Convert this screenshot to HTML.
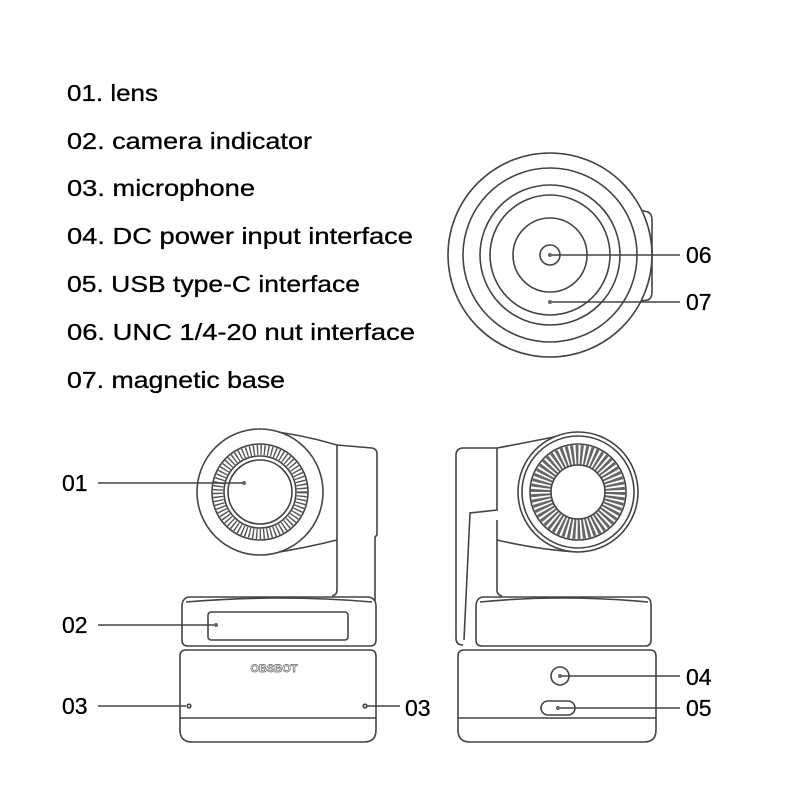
<!DOCTYPE html>
<html><head><meta charset="utf-8"><style>
html,body{margin:0;padding:0;background:#fff;width:800px;height:800px;overflow:hidden}
svg{display:block}
text{font-family:"Liberation Sans","DejaVu Sans",sans-serif;font-size:23px;fill:#000;stroke:#000;stroke-width:0.3}
</style></head><body>
<svg width="800" height="800" viewBox="0 0 800 800" xmlns="http://www.w3.org/2000/svg">
<g>
<text x="67" y="101" textLength="91" lengthAdjust="spacingAndGlyphs">01. lens</text>
<text x="67" y="149" textLength="245" lengthAdjust="spacingAndGlyphs">02. camera indicator</text>
<text x="67" y="196" textLength="188" lengthAdjust="spacingAndGlyphs">03. microphone</text>
<text x="67" y="244" textLength="346" lengthAdjust="spacingAndGlyphs">04. DC power input interface</text>
<text x="67" y="292" textLength="293" lengthAdjust="spacingAndGlyphs">05. USB type-C interface</text>
<text x="67" y="340" textLength="348" lengthAdjust="spacingAndGlyphs">06. UNC 1/4-20 nut interface</text>
<text x="67" y="388" textLength="218" lengthAdjust="spacingAndGlyphs">07. magnetic base</text>

<text x="62" y="491">01</text>
<text x="62" y="633">02</text>
<text x="62" y="714">03</text>
<text x="405" y="716">03</text>
<text x="686" y="685">04</text>
<text x="686" y="716">05</text>
<text x="686" y="263">06</text>
<text x="686" y="310">07</text>
</g>

<g fill="none" stroke="#444" stroke-width="1.6">
<!-- top view -->
<path d="M640 210 L648 212 Q652 214 652 220 L652 292 Q652 298 648 300 L640 301"/>
<circle cx="550" cy="255" r="102" fill="#fff"/>
<circle cx="550" cy="255" r="87"/>
<circle cx="550" cy="255" r="70"/>
<circle cx="550" cy="255" r="60"/>
<circle cx="550" cy="255" r="37"/>
<circle cx="550" cy="255" r="10"/>
<line x1="550" y1="255" x2="680" y2="255"/>
<line x1="550" y1="302" x2="680" y2="302"/>

<!-- LEFT CAMERA -->
<path d="M337 445 L372 448 Q377 449 377 454 L377 535 L375 537 L375 640 Q374 645 368 645"/>
<path d="M337 445 L337 590 Q337 595 332 596"/>
<path d="M262 430 Q300 434 337 445"/>
<path d="M268 554 Q305 548 337 540"/>
<circle cx="260" cy="492" r="63" fill="#fff"/>
<circle cx="260" cy="492" r="48"/>
<circle cx="260" cy="492" r="42" stroke-width="10" stroke-dasharray="1.4 2.2" stroke="#555"/>
<circle cx="260" cy="492" r="36"/>
<circle cx="260" cy="492" r="32"/>
<path d="M190 597 L367 597 Q375 597 376 605 L376 640 Q376 646 370 646 L188 646 Q182 646 182 640 L182 605 Q183 597 190 597 Z" fill="#fff"/>
<rect x="208" y="612" width="140" height="28" rx="3"/>
<path d="M186 602 Q280 594 372 602"/>
<path d="M186 650 L370 650 Q376 650 376 656 L376 730 Q376 742 364 742 L192 742 Q180 742 180 730 L180 656 Q180 650 186 650 Z" fill="#fff"/>
<line x1="180" y1="718" x2="376" y2="718"/>
<line x1="98" y1="483" x2="243" y2="483"/>
<line x1="98" y1="625" x2="216" y2="625"/>
<line x1="98" y1="706" x2="186" y2="706"/>
<line x1="367" y1="706" x2="400" y2="706"/>
<circle cx="189" cy="706" r="1.8"/><circle cx="365" cy="706" r="1.8"/>

<!-- RIGHT CAMERA -->
<path d="M497 448 L462 448 Q456 449 456 455 L456 638 Q456 645 463 645"/>
<path d="M497 448 L497 510 L470 513 L464 640"/>
<path d="M497 448 Q540 440 578 432"/>
<path d="M497 520 L497 590 Q497 595 502 596"/>
<path d="M497 540 Q540 550 578 552"/>
<circle cx="578" cy="492" r="60" fill="#fff"/>
<circle cx="578" cy="492" r="56"/>
<circle cx="578" cy="492" r="48"/>
<circle cx="578" cy="492" r="37" stroke-width="20" stroke-dasharray="2.5 1.8" stroke="#666"/>
<circle cx="578" cy="492" r="27"/>
<path d="M484 597 L644 597 Q651 597 651 605 L651 640 Q651 646 645 646 L482 646 Q476 646 476 640 L476 605 Q477 597 484 597 Z" fill="#fff"/>
<path d="M480 602 Q560 594 648 602"/>
<path d="M464 650 L650 650 Q656 650 656 656 L656 730 Q656 742 644 742 L470 742 Q458 742 458 730 L458 656 Q458 650 464 650 Z" fill="#fff"/>
<line x1="458" y1="718" x2="656" y2="718"/>
<circle cx="560" cy="676" r="9"/>
<rect x="541" y="701" width="34" height="14" rx="7"/>
<line x1="560" y1="676" x2="680" y2="676"/>
<line x1="558" y1="708" x2="680" y2="708"/>
</g>
<g fill="#666">
<circle cx="550" cy="255" r="2"/><circle cx="550" cy="302" r="2"/>
<circle cx="244" cy="483" r="2"/><circle cx="216" cy="625" r="2"/>
<circle cx="560" cy="676" r="2"/><circle cx="558" cy="708" r="2"/>
</g>
<text x="274" y="672" text-anchor="middle" style="font-size:11px;font-weight:bold;fill:none;stroke:#666;stroke-width:0.7">OBSBOT</text>
</svg>
</body></html>
